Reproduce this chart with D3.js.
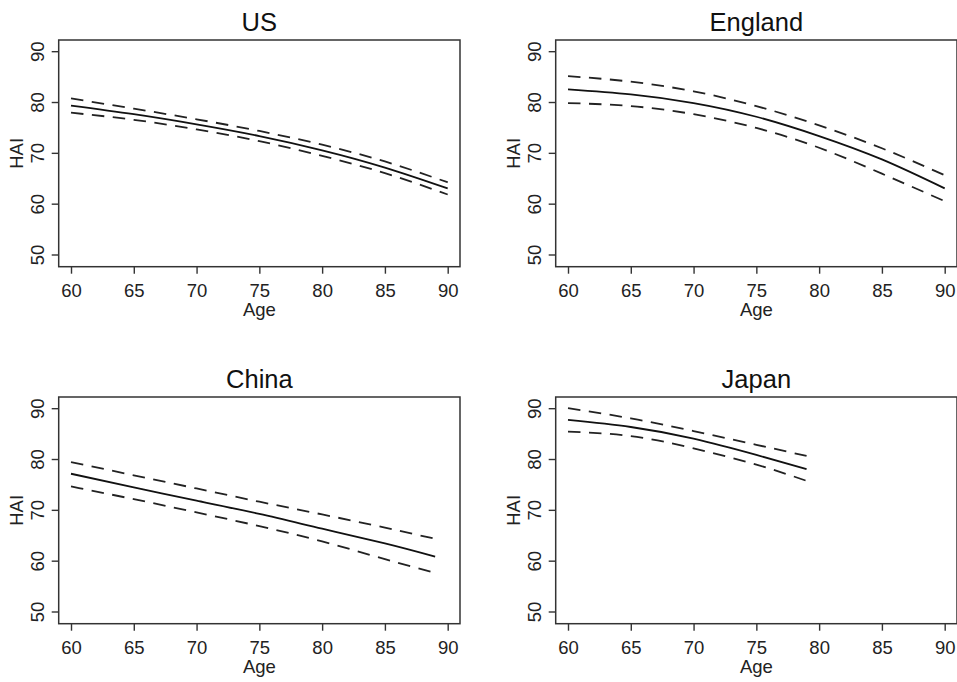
<!DOCTYPE html>
<html>
<head>
<meta charset="utf-8">
<script src="https://cdn.jsdelivr.net/npm/d3@7"></script>
<style>
  body { margin: 0; background: #fff; }
  svg { display: block; font-family: "Liberation Sans", Arial, sans-serif; }
</style>
</head>
<body>
<div id="chart"></div>
<script>
// values
const ageTicks = [60, 65, 70, 75, 80, 85, 90];
const haiTicks = [50, 60, 70, 80, 90];

const usAge = [60, 65, 70, 75, 80, 85, 90];
const usFit = [79.3, 77.6, 75.6, 73.3, 70.5, 67.1, 63.0];
const usUpper = [80.7, 78.7, 76.6, 74.3, 71.6, 68.3, 64.2];
const usLower = [77.9, 76.5, 74.6, 72.3, 69.4, 66.0, 61.8];

const engAge = [60, 65, 70, 75, 80, 85, 90];
const engFit = [82.5, 81.5, 79.8, 77.1, 73.3, 68.7, 63.0];
const engUpper = [85.1, 84.0, 82.1, 79.2, 75.4, 70.9, 65.6];
const engLower = [79.8, 79.2, 77.6, 74.9, 71.0, 65.9, 60.5];

const chnAge = [60, 65, 70, 75, 80, 85, 89];
const chnFit = [77.1, 74.4, 71.8, 69.2, 66.3, 63.4, 60.8];
const chnUpper = [79.4, 76.8, 74.2, 71.6, 69.1, 66.5, 64.3];
const chnLower = [74.6, 72.1, 69.5, 66.8, 63.8, 60.3, 57.6];

const jpnAge = [60, 65, 70, 75, 79];
const jpnFit = [87.7, 86.3, 84.0, 80.8, 78.0];
const jpnUpper = [90.0, 88.0, 85.5, 82.8, 80.6];
const jpnLower = [85.4, 84.5, 82.1, 78.9, 75.7];

const panels = [
  { title: 'US', age: usAge, fit: usFit, upper: usUpper, lower: usLower, col: 0, row: 0 },
  { title: 'England', age: engAge, fit: engFit, upper: engUpper, lower: engLower, col: 1, row: 0 },
  { title: 'China', age: chnAge, fit: chnFit, upper: chnUpper, lower: chnLower, col: 0, row: 1 },
  { title: 'Japan', age: jpnAge, fit: jpnFit, upper: jpnUpper, lower: jpnLower, col: 1, row: 1 }
];

const width = 957;
const height = 682;
const plotW = 401.3;
const plotH = 226.7;

const svg = d3.select('#chart')
  .append('svg')
  .attr('width', width)
  .attr('height', height);

const x = d3.scaleLinear().domain([59.02, 90.98]).range([0, plotW]);
const y = d3.scaleLinear().domain([47.6, 92.2]).range([plotH, 0]);

panels.forEach(p => {
  const g = svg.append('g')
    .attr('transform', `translate(${58.7 + p.col * 497}, ${40 + p.row * 357})`);

  // title
  g.append('text')
    .attr('x', plotW / 2)
    .attr('y', -9)
    .attr('text-anchor', 'middle')
    .style('font-size', '25.5px')
    .style('fill', '#111')
    .text(p.title);

  // x axis
  const xa = g.append('g')
    .attr('transform', `translate(0, ${plotH})`)
    .call(d3.axisBottom(x).tickValues(ageTicks).tickSize(7).tickPadding(5));
  xa.select('.domain').remove();
  xa.selectAll('line').attr('stroke', '#333').attr('stroke-width', 1.4);
  xa.selectAll('text')
    .attr('y', 30)
    .attr('dy', 0)
    .style('font-size', '18.5px')
    .style('font-family', '"Liberation Sans", Arial, sans-serif')
    .style('fill', '#222');

  // y axis with rotated labels
  const ya = g.append('g')
    .call(d3.axisLeft(y).tickValues(haiTicks).tickSize(7));
  ya.select('.domain').remove();
  ya.selectAll('line').attr('stroke', '#333').attr('stroke-width', 1.4);
  ya.selectAll('text')
    .attr('transform', 'rotate(-90)')
    .attr('x', 0)
    .attr('y', -15.2)
    .attr('dy', 0)
    .attr('text-anchor', 'middle')
    .style('font-size', '18.5px')
    .style('font-family', '"Liberation Sans", Arial, sans-serif')
    .style('fill', '#222');

  // frame
  g.append('rect')
    .attr('width', plotW)
    .attr('height', plotH)
    .attr('fill', 'none')
    .attr('stroke', '#333')
    .attr('stroke-width', 1.5);

  // axis titles
  g.append('text')
    .attr('x', plotW / 2)
    .attr('y', plotH + 49.5)
    .attr('text-anchor', 'middle')
    .style('font-size', '18.5px')
    .style('fill', '#222')
    .text('Age');

  g.append('text')
    .attr('transform', `translate(-35.4, ${plotH / 2}) rotate(-90)`)
    .attr('text-anchor', 'middle')
    .style('font-size', '18.5px')
    .style('fill', '#222')
    .text('HAI');

  const line = vals => d3.line()
    .x((d, i) => x(p.age[i]))
    .y(d => y(d))
    .curve(d3.curveNatural)(vals);

  [p.upper, p.lower].forEach(vals => {
    g.append('path')
      .attr('d', line(vals))
      .attr('fill', 'none')
      .attr('stroke', '#222')
      .attr('stroke-width', 1.8)
      .attr('stroke-dasharray', '12.5,8.5');
  });

  g.append('path')
    .attr('d', line(p.fit))
    .attr('fill', 'none')
    .attr('stroke', '#111')
    .attr('stroke-width', 1.8);
});
</script>
</body>
</html>
